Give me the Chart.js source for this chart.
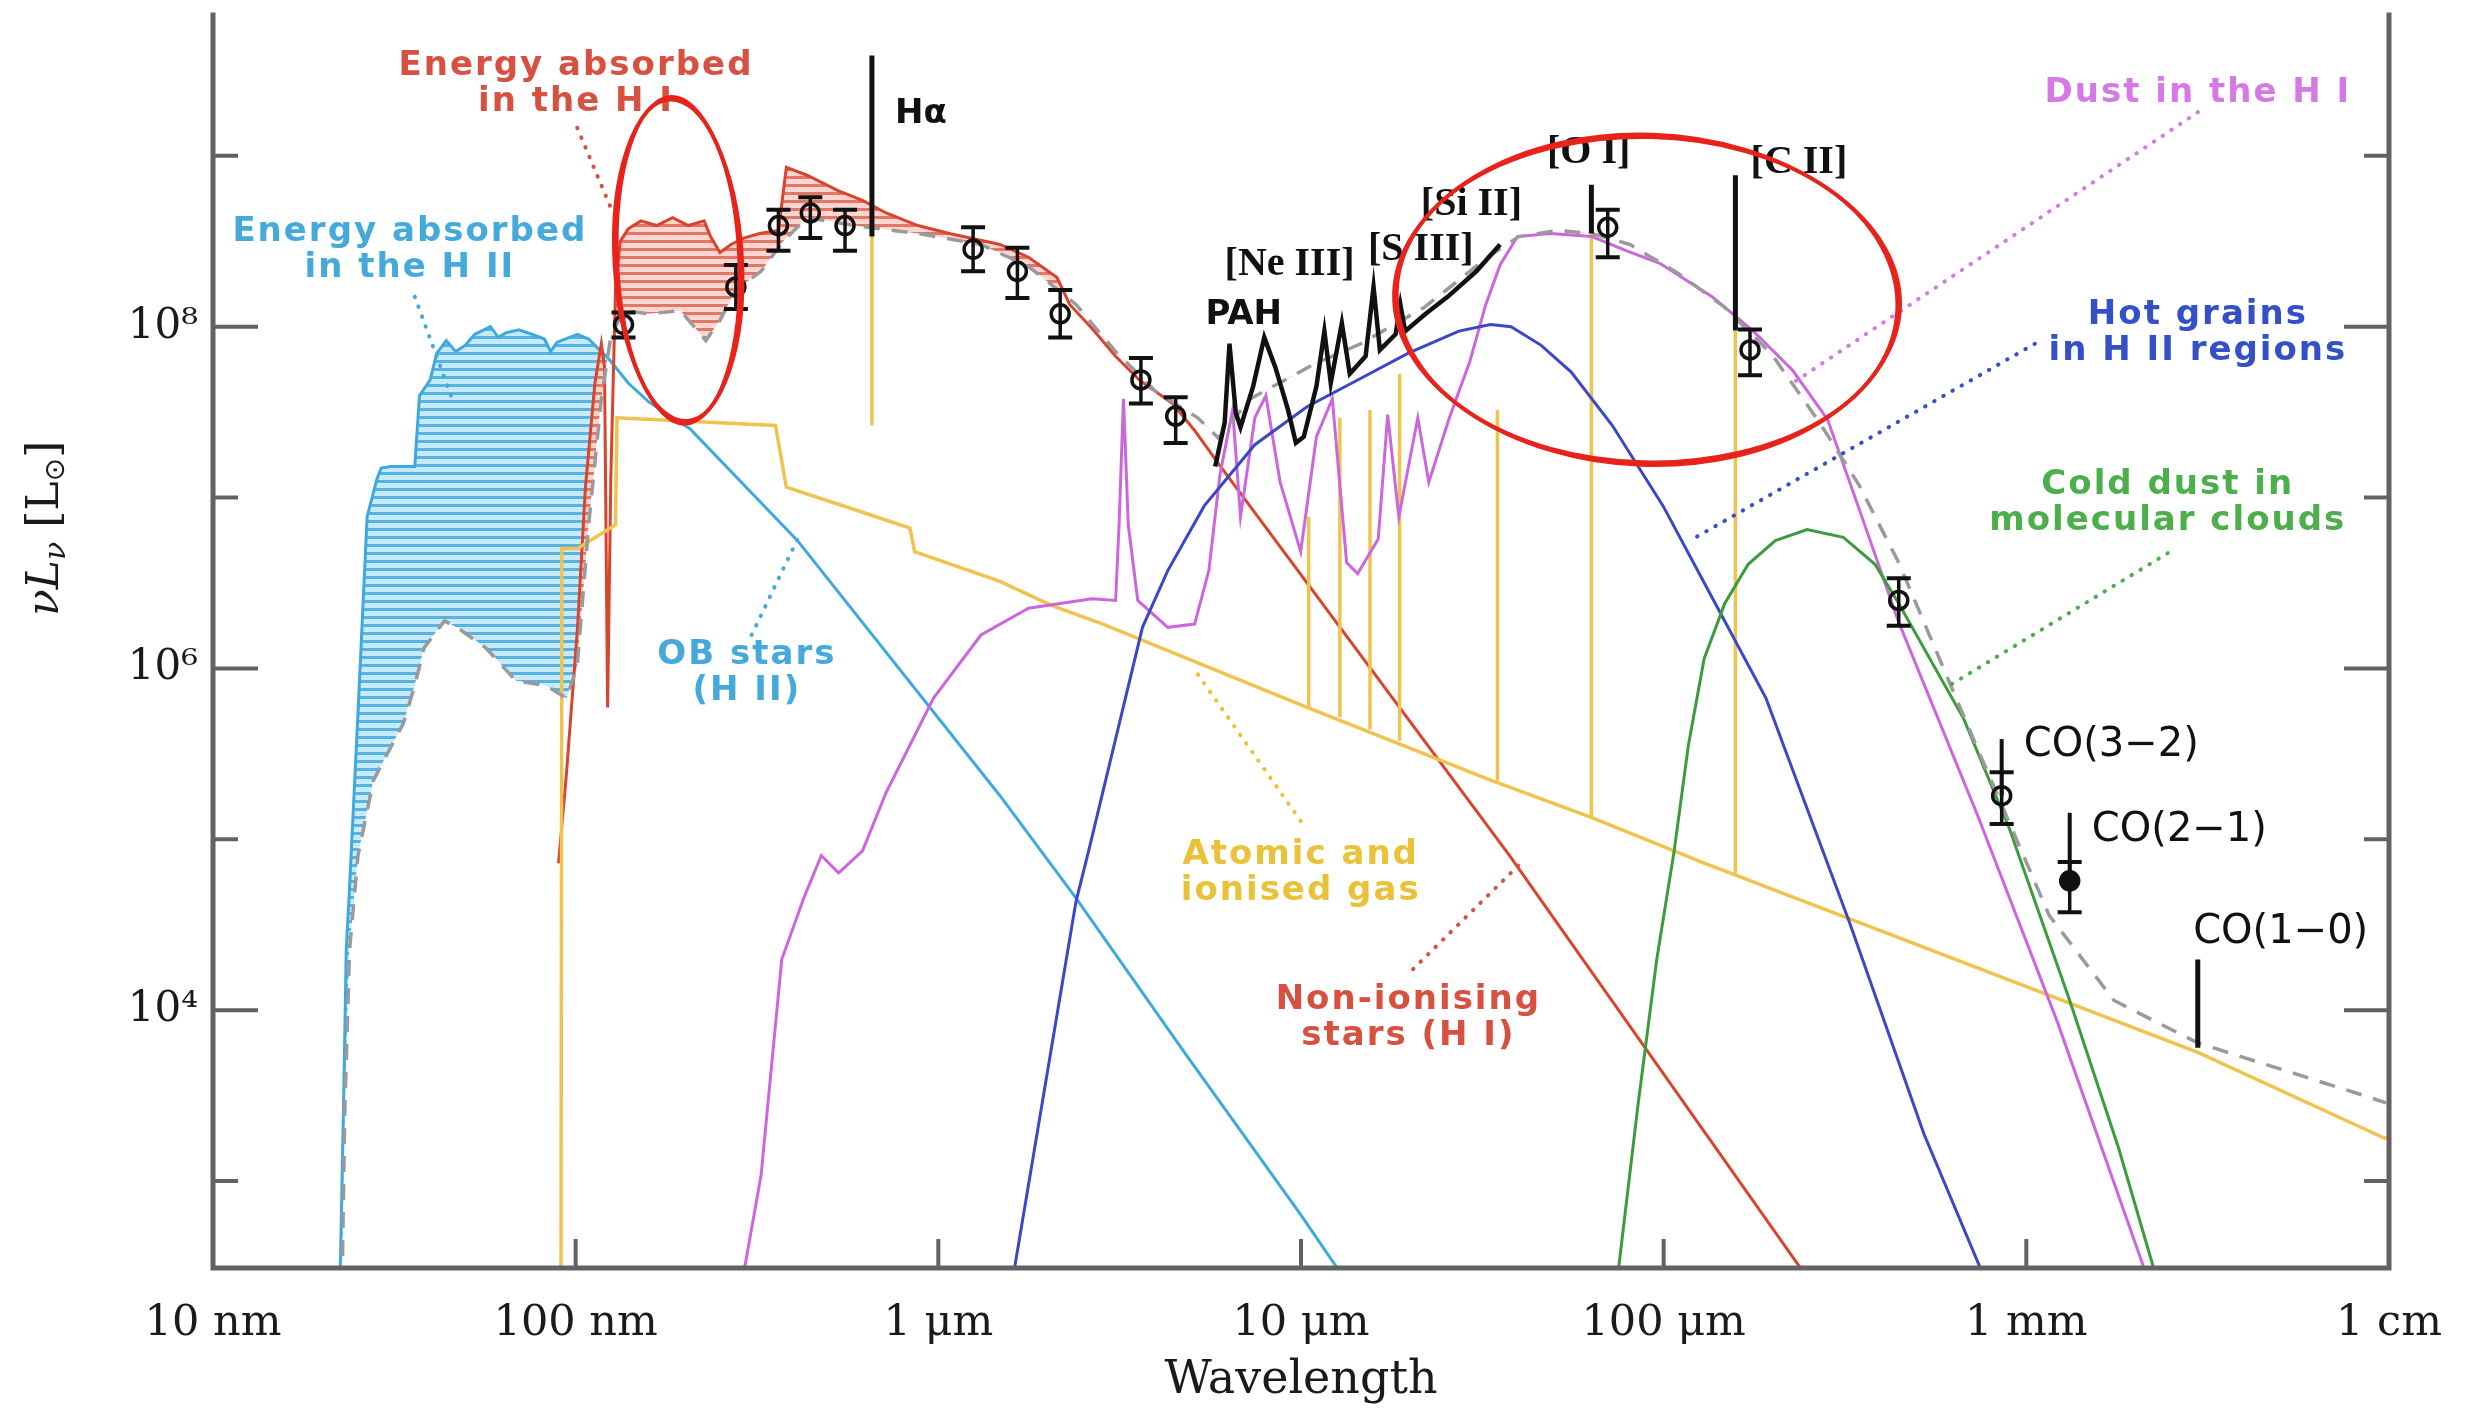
<!DOCTYPE html>
<html>
<head>
<meta charset="utf-8">
<title>Spectral energy distribution</title>
<script src="https://cdn.jsdelivr.net/npm/chart.js@4.4.0/dist/chart.umd.min.js"></script>
<style>
  html, body { margin: 0; padding: 0; background: #fff; }
</style>
</head>
<body>
<canvas id="sed" width="2481" height="1416"></canvas>
<script>
// wavelength in micron, nu L_nu in solar luminosities

const obStars = [
  [0.0224, 250], [0.0229, 2700], [0.0233, 2.25e4], [0.0238, 5.26e4], [0.0251, 5.4e5],
  [0.0266, 7.7e6], [0.0283, 1.28e7], [0.0291, 1.49e7], [0.0309, 1.52e7], [0.0360, 1.52e7],
  [0.0371, 3.95e7], [0.0397, 4.88e7], [0.0414, 7.0e7], [0.0440, 8.3e7], [0.0467, 7.15e7],
  [0.0496, 7.78e7], [0.0527, 9.03e7], [0.0582, 1.0e8], [0.0612, 8.66e7], [0.0644, 9.23e7],
  [0.0698, 9.6e7], [0.0757, 9.03e7], [0.0820, 8.47e7], [0.0853, 7.15e7], [0.0889, 8.12e7],
  [0.1012, 9.03e7], [0.1086, 8.47e7], [0.124, 6.4e7], [0.1396, 4.68e7], [0.159, 3.63e7],
  [0.2065, 2.53e7], [0.409, 5.6e6], [1.479, 1.8e5], [2.397, 4.53e4], [4.84, 5430],
  [9.98, 637], [13.0, 280]
];

const nonIonisingStars = [
  [0.0897, 7.23e4], [0.0944, 2.47e5], [0.1012, 1.74e6], [0.1064, 1.15e7], [0.113, 4.68e7],
  [0.1177, 7.95e7], [0.1201, 5.78e7], [0.1225, 5.91e5], [0.125, 1.31e7], [0.1288, 1.67e8],
  [0.1327, 3.16e8], [0.1396, 3.74e8], [0.1513, 4.16e8], [0.1672, 3.91e8], [0.185, 4.35e8],
  [0.2045, 3.91e8], [0.226, 4.16e8], [0.2355, 3.37e8], [0.25, 2.72e8], [0.268, 3.03e8],
  [0.2905, 3.3e8], [0.3214, 3.51e8], [0.3623, 3.66e8], [0.381, 8.57e8], [0.4345, 7.7e8],
  [0.531, 6.23e8], [0.618, 5.48e8], [0.718, 4.63e8], [0.878, 3.91e8], [1.073, 3.51e8],
  [1.479, 3.03e8], [1.773, 2.55e8], [2.125, 1.94e8], [2.302, 1.35e8], [2.65, 9.8e7],
  [3.082, 6.71e7], [3.58, 4.88e7], [4.423, 3.55e7], [5.09, 2.47e7], [5.92, 1.58e7],
  [37.6, 8.04e4], [256, 250]
];

const gasContinuum = [
  [0.0911, 250], [0.0916, 5.04e6], [0.1012, 5.04e6], [0.1288, 6.93e6], [0.130, 2.93e7],
  [0.3556, 2.64e7], [0.381, 1.15e7], [0.618, 8.21e6], [0.835, 6.64e6], [0.860, 4.83e6],
  [1.479, 3.23e6], [2.042, 2.35e6], [2.843, 1.82e6], [10.39, 5.91e5], [33.32, 2.22e5],
  [63.4, 1.34e5], [126.8, 7.38e4], [2972, 5.66e3], [9625, 1.8e3], [1.1e4, 1650]
];

// emission lines of the ionised gas: wavelength, foot on the continuum, top
const gasLineWave = [0.656, 10.5, 12.8, 15.5, 18.7, 34.8, 63.2, 157.7];
const gasLineBase = [2.64e7, 5.9e5, 5.2e5, 4.39e5, 3.78e5, 2.2e5, 1.34e5, 6.23e4];
const gasLinePeak = [3.37e8, 7.7e6, 2.93e7, 3.26e7, 5.31e7, 3.26e7, 3.51e8, 9.5e7];

const dustHI = [
  [0.288, 260], [0.3245, 1080], [0.370, 1.98e4], [0.4256, 4.53e4], [0.4755, 8.04e4],
  [0.531, 6.37e4], [0.618, 8.56e4], [0.718, 1.88e5], [0.970, 6.71e5], [1.311, 1.57e6],
  [1.773, 2.25e6], [2.65, 2.56e6], [3.082, 2.5e6], [3.15, 6.93e6], [3.24, 3.78e7],
  [3.34, 6.93e6], [3.547, 2.5e6], [4.292, 1.74e6], [5.09, 1.82e6], [5.57, 3.74e6],
  [5.98, 1.37e7], [6.48, 3.26e7], [6.81, 7.7e6], [7.46, 2.93e7], [8.0, 3.95e7],
  [8.76, 1.23e7], [9.98, 4.83e6], [11.03, 2.27e7], [12.2, 3.78e7], [13.36, 4.16e6],
  [14.33, 3.59e6], [16.33, 5.72e6], [17.34, 3.06e7], [18.61, 7.7e6], [20.99, 2.93e7],
  [22.51, 1.23e7], [25.65, 2.93e7], [29.24, 6.3e7], [32.33, 1.35e8], [35.4, 2.3e8],
  [39.5, 3.37e8], [48.8, 3.51e8], [63.4, 3.37e8], [79.1, 2.78e8], [97.6, 2.35e8],
  [136, 1.5e8], [176.6, 9.42e7], [227, 5.54e7], [283, 2.87e7], [346, 8.56e6],
  [445, 1.86e6], [735, 1.37e5], [1215, 8660], [2112, 309], [2180, 250]
];

const hotGrains = [
  [1.6, 260], [2.397, 4.34e4], [2.597, 8.56e4], [3.655, 1.74e6], [4.292, 3.74e6],
  [5.41, 8.94e6], [7.46, 2.04e7], [10.39, 3.4e7], [14.33, 4.88e7], [19.77, 7.0e7],
  [27.25, 9.42e7], [33.32, 1.03e8], [37.96, 1.0e8], [45.95, 7.78e7], [55.6, 5.43e7],
  [72.2, 2.64e7], [99.6, 8.94e6], [137.4, 2.5e6], [191.4, 6.71e5], [326, 3.23e4],
  [522.4, 1880], [773, 260]
];

const coldDust = [
  [74.4, 260], [84.8, 2700], [95.7, 1.98e4], [106.9, 8.56e4], [117, 3.55e5],
  [129.3, 1.14e6], [147.4, 2.4e6], [171, 4.07e6], [203.2, 5.6e6], [248.5, 6.5e6],
  [313, 5.85e6], [382.6, 4.07e6], [444.8, 2.4e6], [671.5, 5.09e5], [899, 1.15e5],
  [1317, 1.14e4], [1798, 1550], [2244, 309], [2310, 250]
];

const totalModel = [
  [0.0227, 250], [0.0231, 2700], [0.0238, 2.25e4], [0.0251, 8.0e4], [0.0277, 2.22e5],
  [0.0335, 4.78e5], [0.0360, 7.95e5], [0.0382, 1.32e6], [0.0435, 1.9e6], [0.0476, 1.71e6],
  [0.0565, 1.32e6], [0.0684, 8.47e5], [0.0828, 7.95e5], [0.0944, 6.7e5], [0.101, 1.03e6],
  [0.1086, 6.93e6], [0.1177, 3.78e7], [0.125, 8.8e7], [0.1355, 1.24e8], [0.159, 1.19e8],
  [0.1945, 1.24e8], [0.2285, 8.3e7], [0.25, 1.09e8], [0.2765, 1.64e8], [0.3245, 2.11e8],
  [0.3735, 3.16e8], [0.4345, 4.35e8], [0.587, 3.91e8], [0.878, 3.51e8], [1.311, 3.03e8],
  [1.773, 2.25e8], [2.397, 1.35e8], [3.082, 7.15e7], [3.96, 4.21e7], [5.19, 2.93e7],
  [5.92, 2.23e7], [7.24, 3.78e7], [10.8, 6.0e7], [14.6, 7.95e7], [21.9, 1.3e8],
  [32.7, 2.55e8], [39.9, 3.37e8], [51.3, 3.66e8], [63.4, 3.51e8], [80.7, 3.03e8],
  [109, 2.07e8], [147.4, 1.3e8], [199, 6.86e7], [269, 2.75e7], [346, 1.18e7],
  [444.8, 4.16e6], [742.6, 3.19e5], [1156, 3.59e4], [1745, 1.14e4], [2972, 6.43e3],
  [8446, 3.19e3], [9817, 2.87e3]
];

const irsSpectrum = [
  [5.80, 1.52e7], [6.16, 2.75e7], [6.35, 7.95e7], [6.61, 3.13e7], [6.81, 2.58e7],
  [7.38, 4.48e7], [7.92, 8.66e7], [8.5, 5.78e7], [9.21, 3.26e7], [9.68, 2.09e7],
  [10.18, 2.27e7], [11.03, 4.48e7], [11.6, 9.42e7], [12.08, 4.68e7], [12.96, 1.05e8],
  [13.63, 5.31e7], [15.07, 6.71e7], [15.85, 1.71e8], [16.5, 7.31e7], [18.23, 9.03e7],
  [18.79, 1.35e8], [19.37, 9.42e7], [22.07, 1.19e8], [25.41, 1.5e8], [30.44, 2.11e8],
  [35.4, 3.03e8]
];

// observed lines (H alpha, [OI], [CII], CO(1-0))
const obsLineWave = [0.656, 63.2, 157.7, 2970];
const obsLineBase = [3.37e8, 3.51e8, 9.5e7, 6.03e3];
const obsLinePeak = [3.86e9, 6.78e8, 7.7e8, 1.98e4];

// broad-band photometry with error bars
const photWave  = [0.1355, 0.2765, 0.3623, 0.4436, 0.553, 1.247, 1.652, 2.168, 3.619, 4.513, 70.1, 173, 444.8, 855, 1317];
const photLum   = [1.03e8, 1.71e8, 3.91e8, 4.63e8, 3.91e8, 2.84e8, 2.11e8, 1.19e8, 4.88e7, 3.0e7, 3.82e8, 7.31e7, 2.5e6, 1.8e5, 5.72e4];
const photErrHi = [1.21e8, 2.3e8, 4.83e8, 5.73e8, 4.83e8, 3.82e8, 2.9e8, 1.64e8, 6.57e7, 3.87e7, 4.83e8, 9.63e7, 3.37e6, 2.47e5, 7.38e4];
const photErrLo = [8.66e7, 1.27e8, 2.78e8, 3.3e8, 2.78e8, 2.11e8, 1.47e8, 8.66e7, 3.55e7, 2.09e7, 2.55e8, 5.2e7, 1.78e6, 1.23e5, 3.74e4];
const photFilled = [0, 0, 0, 0, 0, 0, 0, 0, 0, 0, 0, 0, 0, 0, 1];
// CO upper limits: stem drawn from the point up to this value
const limitWave = [855, 1317];
const limitTop  = [3.86e5, 1.43e5];

const xTickValues = [0.01, 0.1, 1, 10, 100, 1000, 10000];
const xTickLabels = ['10 nm', '100 nm', '1 \u03bcm', '10 \u03bcm', '100 \u03bcm', '1 mm', '1 cm'];
const yTickValues = [1e3, 1e4, 1e5, 1e6, 1e7, 1e8, 1e9];
const yTickLabels = ['', '10\u2074', '', '10\u2076', '', '10\u2078', ''];

const RED = '#d8503f', CYAN = '#45a9dc', MAGENTA = '#d479e6', BLUE = '#3450c8',
      GREEN = '#4caf4c', GOLD = '#e9c23a';

const componentLabels = [
  { lines: ['Energy absorbed', 'in the H I'], at: [0.1002, 3.33e9], color: RED },
  { lines: ['Energy absorbed', 'in the H II'], at: [0.0349, 3.59e8], color: CYAN },
  { lines: ['OB stars', '(H II)'], at: [0.2965, 1.19e6], color: CYAN },
  { lines: ['Atomic and', 'ionised gas'], at: [9.98, 8.04e4], color: GOLD },
  { lines: ['Non-ionising', 'stars (H I)'], at: [19.77, 1.14e4], color: RED },
  { lines: ['Dust in the H I'], at: [2972, 2.32e9], color: MAGENTA },
  { lines: ['Hot grains', 'in H II regions'], at: [2972, 1.17e8], color: BLUE },
  { lines: ['Cold dust in', 'molecular clouds'], at: [2455, 1.18e7], color: GREEN }
];

const leaders = [
  { from: [0.101, 1.46e9], to: [0.1262, 4.73e8], color: RED },
  { from: [0.036, 1.5e8], to: [0.0453, 3.95e7], color: CYAN },
  { from: [0.3056, 1.57e6], to: [0.409, 5.72e6], color: CYAN },
  { from: [9.98, 1.28e5], to: [5.09, 9.83e5], color: GOLD },
  { from: [20.37, 1.74e4], to: [39.9, 7.08e4], color: RED },
  { from: [2972, 1.8e9], to: [227, 4.68e7], color: MAGENTA },
  { from: [1056, 7.95e7], to: [118.2, 5.6e6], color: BLUE },
  { from: [2455, 4.73e6], to: [613.8, 7.95e5], color: GREEN }
];

const lineLabels = [
  { text: 'H\u03b1', at: [0.895, 1.76e9], font: 'bold 34px "DejaVu Sans"' },
  { text: 'PAH', at: [6.95, 1.165e8], font: 'bold 34px "DejaVu Sans"' },
  { text: '[Ne III]', at: [9.3, 2.3e8], font: 'bold 40px "Liberation Serif"' },
  { text: '[S III]', at: [21.4, 2.84e8], font: 'bold 40px "Liberation Serif"' },
  { text: '[Si II]', at: [29.5, 5.15e8], font: 'bold 40px "Liberation Serif"' },
  { text: '[O I]', at: [62.1, 1.04e9], font: 'bold 40px "Liberation Serif"' },
  { text: '[C II]', at: [236, 9.13e8], font: 'bold 40px "Liberation Serif"' },
  { text: 'CO(3\u22122)', at: [984, 3.55e5], font: '40px "DejaVu Sans"', align: 'left' },
  { text: 'CO(2\u22121)', at: [1516, 1.13e5], font: '40px "DejaVu Sans"', align: 'left' },
  { text: 'CO(1\u22120)', at: [2884, 2.84e4], font: '40px "DejaVu Sans"', align: 'left' }
];

// hand-drawn rings, given by their wavelength / luminosity extent
const rings = [
  { x: [0.129, 0.285], y: [2.75e7, 2.18e9], tilt: -0.05 },
  { x: [18.2, 445], y: [1.58e7, 1.31e9], tilt: 0.03 }
];

const canvas = document.getElementById('sed');
const pts = arr => arr.map(([x, y]) => ({ x, y }));
const segs = (w, a, b) => w.flatMap((v, i) => [{ x: v, y: a[i] }, { x: v, y: b[i] }, { x: v, y: null }]);

function hatch(line, fill) {
  const tile = document.createElement('canvas');
  tile.width = 8; tile.height = 8;
  const t = tile.getContext('2d');
  t.fillStyle = fill; t.fillRect(0, 0, 8, 8);
  t.fillStyle = line; t.fillRect(0, 0, 8, 3);
  return canvas.getContext('2d').createPattern(tile, 'repeat');
}
const cyanHatch = hatch('rgb(85,180,228)', 'rgb(200,234,248)');
const redHatch = hatch('rgb(228,118,104)', 'rgb(250,214,208)');
const NONE = 'rgba(0,0,0,0)';
const TOTAL = 7;

const sedDecor = {
  id: 'sedDecor',
  beforeDraw(chart) {
    const { ctx, width, height } = chart;
    ctx.save();
    ctx.fillStyle = '#fff';
    ctx.fillRect(0, 0, width, height);
    ctx.restore();
  },
  afterDatasetsDraw(chart) {
    const { ctx, scales: { x, y } } = chart;
    ctx.save();
    ctx.strokeStyle = '#111';
    ctx.lineCap = 'butt';
    // upper-limit stems
    ctx.lineWidth = 4;
    limitWave.forEach((w, i) => {
      const X = x.getPixelForValue(w);
      ctx.beginPath();
      ctx.moveTo(X, y.getPixelForValue(limitTop[i]));
      ctx.lineTo(X, y.getPixelForValue(photLum[photWave.indexOf(w)]));
      ctx.stroke();
    });
    // error bars with caps
    photWave.forEach((w, i) => {
      const X = x.getPixelForValue(w);
      const top = y.getPixelForValue(photErrHi[i]);
      const bot = y.getPixelForValue(photErrLo[i]);
      ctx.lineWidth = 3.5;
      ctx.beginPath();
      ctx.moveTo(X, top); ctx.lineTo(X, bot);
      ctx.stroke();
      ctx.lineWidth = 4;
      ctx.beginPath();
      ctx.moveTo(X - 12, top); ctx.lineTo(X + 12, top);
      ctx.moveTo(X - 12, bot); ctx.lineTo(X + 12, bot);
      ctx.stroke();
    });
    ctx.restore();
  },
  afterDraw(chart) {
    const { ctx, chartArea: a, scales: { x, y } } = chart;
    const px = v => x.getPixelForValue(v), py = v => y.getPixelForValue(v);
    ctx.save();

    // frame: left, bottom, right
    ctx.strokeStyle = '#626262';
    ctx.lineWidth = 5;
    ctx.beginPath();
    ctx.moveTo(a.left, a.top); ctx.lineTo(a.left, a.bottom);
    ctx.lineTo(a.right, a.bottom); ctx.lineTo(a.right, a.top);
    ctx.stroke();

    // inward ticks
    ctx.lineWidth = 4;
    ctx.beginPath();
    xTickValues.forEach(v => {
      const X = px(v);
      if (X <= a.left + 2 || X >= a.right - 2) return;
      ctx.moveTo(X, a.bottom); ctx.lineTo(X, a.bottom - 29);
    });
    yTickValues.forEach((v, i) => {
      const Y = py(v);
      const len = yTickLabels[i] ? 45 : 25;
      ctx.moveTo(a.left, Y); ctx.lineTo(a.left + len, Y);
      ctx.moveTo(a.right, Y); ctx.lineTo(a.right - len, Y);
    });
    ctx.stroke();

    // dotted leaders
    ctx.lineCap = 'round';
    ctx.lineWidth = 4;
    ctx.setLineDash([0.5, 10]);
    leaders.forEach(l => {
      ctx.strokeStyle = l.color;
      ctx.beginPath();
      ctx.moveTo(px(l.from[0]), py(l.from[1]));
      ctx.lineTo(px(l.to[0]), py(l.to[1]));
      ctx.stroke();
    });
    ctx.setLineDash([]);

    // component names
    ctx.textAlign = 'center';
    ctx.textBaseline = 'middle';
    ctx.font = 'bold 34px "DejaVu Sans"';
    ctx.letterSpacing = '2px';
    componentLabels.forEach(l => {
      ctx.fillStyle = l.color;
      const X = px(l.at[0]), Y = py(l.at[1]);
      l.lines.forEach((s, k) => ctx.fillText(s, X, Y + k * 36));
    });
    ctx.letterSpacing = '0px';

    // line names
    ctx.fillStyle = '#111';
    lineLabels.forEach(l => {
      ctx.font = l.font;
      ctx.textAlign = l.align || 'center';
      ctx.fillText(l.text, px(l.at[0]), py(l.at[1]));
    });

    // y axis title, nu L_nu [L_sun]
    const parts = [
      { t: '\u03bd', f: 'italic 44px "DejaVu Serif"', dy: 0 },
      { t: 'L', f: 'italic 44px "DejaVu Serif"', dy: 0 },
      { t: '\u03bd', f: 'italic 30px "DejaVu Serif"', dy: 10 },
      { t: ' [L', f: '44px "DejaVu Serif"', dy: 0 },
      { t: '\u2299', f: '28px "DejaVu Sans"', dy: 10 },
      { t: ']', f: '44px "DejaVu Serif"', dy: 0 }
    ];
    let total = 0;
    parts.forEach(p => { ctx.font = p.f; p.w = ctx.measureText(p.t).width; total += p.w; });
    ctx.translate(47, py(6.6e6));
    ctx.rotate(-Math.PI / 2);
    ctx.textAlign = 'left';
    ctx.textBaseline = 'middle';
    ctx.fillStyle = '#1a1a1a';
    let cx = -total / 2;
    parts.forEach(p => { ctx.font = p.f; ctx.fillText(p.t, cx, p.dy); cx += p.w; });
    ctx.setTransform(1, 0, 0, 1, 0, 0);

    // red rings
    ctx.strokeStyle = '#e8231b';
    rings.forEach(r => {
      const x0 = px(r.x[0]), x1 = px(r.x[1]), y0 = py(r.y[0]), y1 = py(r.y[1]);
      const cxr = (x0 + x1) / 2, cyr = (y0 + y1) / 2;
      const rx = Math.abs(x1 - x0) / 2, ry = Math.abs(y1 - y0) / 2;
      [[0, 0, 4], [2, -1.5, 2.5], [-2, 1.5, 2.5]].forEach(([dr, dt, w]) => {
        ctx.lineWidth = w;
        ctx.beginPath();
        ctx.ellipse(cxr, cyr, rx + dr, ry - dr, r.tilt + dt * 0.004, 0, Math.PI * 2);
        ctx.stroke();
      });
    });
    ctx.restore();
  }
};

new Chart(canvas, {
  type: 'line',
  data: {
    datasets: [
      { data: pts(obStars), borderColor: '#3fa9dd', borderWidth: 3, order: 10,
        fill: { target: TOTAL, above: cyanHatch, below: NONE } },
      { data: pts(nonIonisingStars), borderColor: '#d9442c', borderWidth: 3, order: 9,
        fill: { target: TOTAL, above: redHatch, below: NONE } },
      { data: pts(gasContinuum), borderColor: '#f0c24e', borderWidth: 3.5, order: 8 },
      { data: segs(gasLineWave, gasLineBase, gasLinePeak), borderColor: '#f0c24e', borderWidth: 3.5, order: 8 },
      { data: pts(dustHI), borderColor: '#cc66dd', borderWidth: 3, order: 7 },
      { data: pts(hotGrains), borderColor: '#3a48c8', borderWidth: 3, order: 6 },
      { data: pts(coldDust), borderColor: '#3c9c3c', borderWidth: 3, order: 5 },
      { data: pts(totalModel), borderColor: '#9a9a9a', borderWidth: 3.5, borderDash: [16, 12], order: 4 },
      { data: pts(irsSpectrum), borderColor: '#111', borderWidth: 4.5, order: 3 },
      { data: segs(obsLineWave, obsLineBase, obsLinePeak), borderColor: '#111', borderWidth: 5, order: 3 },
      { data: photWave.map((w, i) => ({ x: w, y: photLum[i] })), showLine: false, order: 1,
        pointRadius: 9, pointBorderWidth: 3.5, pointBorderColor: '#111',
        pointBackgroundColor: photFilled.map(f => f ? '#111' : NONE) }
    ]
  },
  options: {
    responsive: false,
    animation: false,
    devicePixelRatio: 1,
    spanGaps: false,
    layout: { padding: { top: 7, right: 92, left: 0, bottom: 0 } },
    elements: { point: { radius: 0, hoverRadius: 0 }, line: { tension: 0 } },
    plugins: { legend: { display: false }, tooltip: { enabled: false } },
    scales: {
      x: {
        type: 'logarithmic', min: 0.01, max: 1e4, bounds: 'data',
        afterBuildTicks: s => { s.ticks = xTickValues.map(v => ({ value: v })); },
        afterFit: s => { s.height = 148; s.paddingLeft = 0; s.paddingRight = 0; },
        grid: { display: false, drawTicks: false },
        border: { display: false },
        ticks: {
          autoSkip: false, maxRotation: 0, padding: 30, color: '#1a1a1a',
          font: { family: 'DejaVu Serif', size: 43 },
          callback: v => xTickLabels[xTickValues.indexOf(v)]
        },
        title: { display: true, text: 'Wavelength', color: '#1a1a1a',
          font: { family: 'DejaVu Serif', size: 46 }, padding: { top: 0, bottom: 7 } }
      },
      y: {
        type: 'logarithmic', min: 310, max: 6.9e9, bounds: 'data',
        afterBuildTicks: s => { s.ticks = yTickValues.map(v => ({ value: v })); },
        afterFit: s => { s.width = 213; s.paddingTop = 0; s.paddingBottom = 0; },
        grid: { display: false, drawTicks: false },
        border: { display: false },
        ticks: {
          autoSkip: false, padding: 15, color: '#1a1a1a',
          font: { family: 'DejaVu Serif', size: 42 },
          callback: v => yTickLabels[yTickValues.indexOf(v)]
        }
      }
    }
  },
  plugins: [sedDecor]
});
</script>
</body>
</html>
